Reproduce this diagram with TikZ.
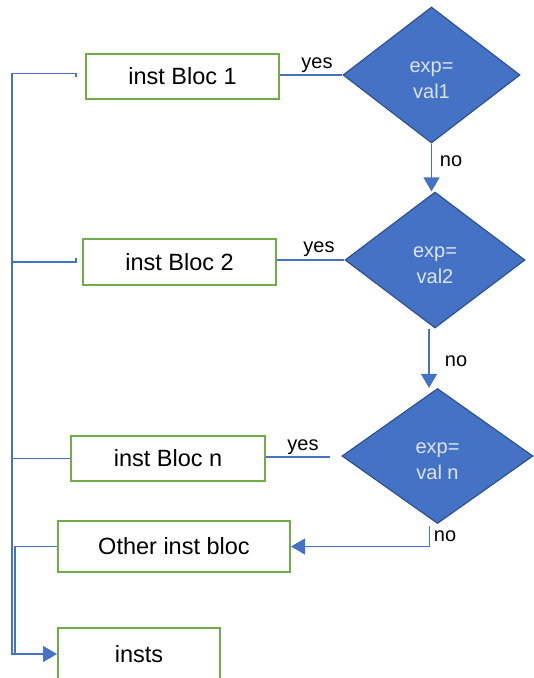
\documentclass[tikz,border=0pt]{standalone}
\usepackage{fontspec}
\setmainfont{Liberation Sans}
\usetikzlibrary{shapes.geometric,arrows.meta,calc}
\definecolor{lblue}{HTML}{4472C4}
\definecolor{dblue}{HTML}{2F528F}
\definecolor{bgreen}{HTML}{70AD47}
\definecolor{dtext}{HTML}{DCE4F4}
\begin{document}
\begin{tikzpicture}[x=1pt,y=-1pt,
  box/.style={draw=bgreen,line width=2pt,inner sep=0pt,text=black,
    font=\fontsize{23.5}{28}\selectfont},
  dia/.style={diamond,draw=dblue,fill=lblue,line width=1.2pt,inner sep=0pt,
    text=dtext,align=center,font=\fontsize{20}{26}\selectfont},
  conn/.style={draw=lblue,line width=1.3pt},
  arr/.style={-{Triangle[width=16pt,length=14pt]}},
  lbl/.style={inner sep=0pt,text=black,font=\fontsize{20}{24}\selectfont}]
\useasboundingbox (0,0) rectangle (534,678);
% boxes
\node[box,minimum width=193pt,minimum height=45pt] (b1) at (182.5,76.5) {inst Bloc 1};
\node[box,minimum width=193pt,minimum height=46pt] (b2) at (179.5,262) {inst Bloc 2};
\node[box,minimum width=194pt,minimum height=45pt] (bn) at (168,458.5) {inst Bloc n};
\node[box,minimum width=232pt,minimum height=51pt] (bo) at (174,546.5) {Other inst bloc};
\node[box,minimum width=162pt,minimum height=52pt] (bi) at (139,654) {insts};
% diamonds
\node[dia,minimum width=177pt,minimum height=136pt] (d1) at (431.5,75) {\rule{0pt}{21.4pt}exp=\\val1};
\node[dia,minimum width=180pt,minimum height=136pt] (d2) at (435,260) {\rule{0pt}{21.4pt}exp=\\val2};
\node[dia,minimum width=191pt,minimum height=135pt] (d3) at (437.5,456) {\rule{0pt}{21.4pt}exp=\\val n};
% yes connectors
\draw[conn] (b1.east |- d1.west) -- (d1.west);
\draw[conn] (b2.east |- d2.west) -- (d2.west);
\coordinate (e3) at (330,457);
\draw[conn] (bn.east |- e3) -- (e3);
% no connectors
\draw[conn,arr] (d1.south) -- (d1.south |- d2.north);
\draw[conn,arr] ($(d2.south)+(-6,0)$) coordinate (s2) -- (s2 |- d3.north);
\draw[conn,arr] ($(d3.south)+(-8,2)$) |- (bo.east);
% left bus
\draw[conn,arr] ($(b1.west)+(-9,0)$) -- ++(0,-3) -| (12,654) -- (bi.west);
\draw[conn] ($(b2.west)+(-6,-4)$) -- ++(0,4) -- (12,262);
\draw[conn] (bn.west) -- (12,458.5);
\draw[conn] (bo.west) -- (15,546.5) -- (15,654);
% labels
\node[lbl] (y1) at (317,65) {yes};
\node[lbl] (y2) at (319,249) {yes};
\node[lbl] (y3) at (303,447) {yes};
\node[lbl] (n1) at (451,161) {no};
\node[lbl] (n2) at (456,361) {no};
\node[lbl] (n3) at (445,536) {no};
\end{tikzpicture}
\end{document}
